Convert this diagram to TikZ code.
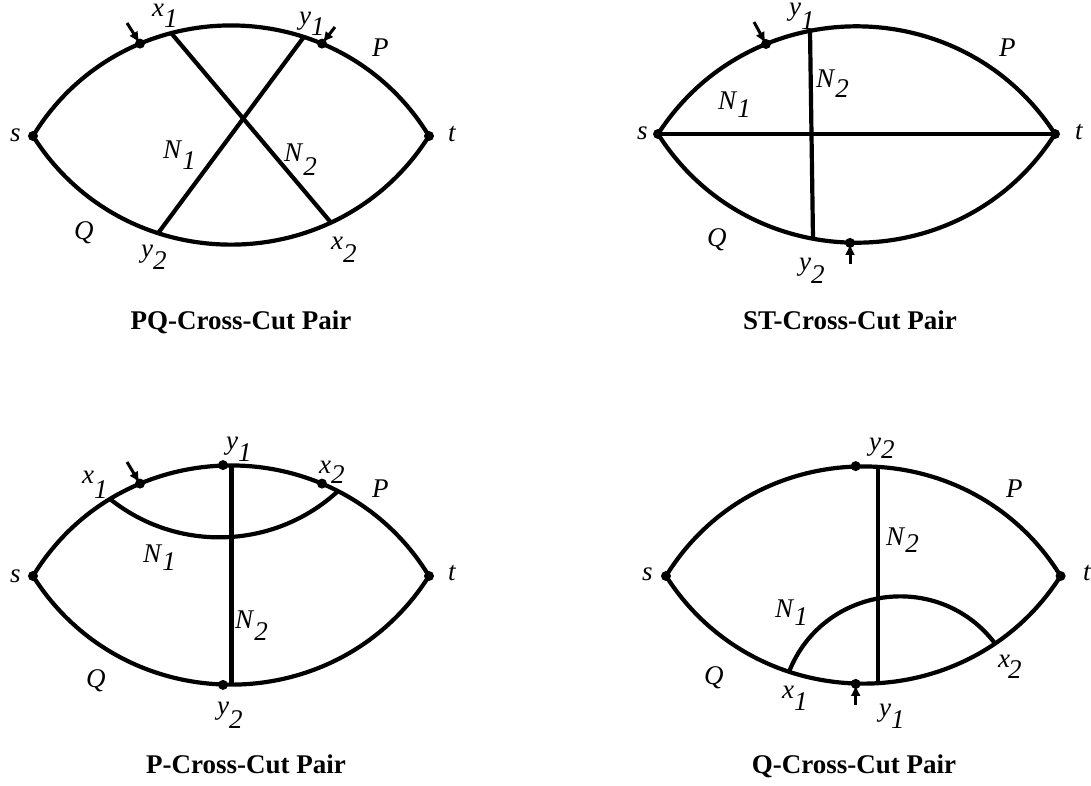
\documentclass[tikz,border=0pt]{standalone}
\usepackage{fontspec}
\setmainfont{Liberation Serif}
\usetikzlibrary{arrows.meta}
\newcommand{\lbl}[3][11pt]{\textit{#2}\raisebox{-#1}{\textit{#3}}}
\begin{document}
\begin{tikzpicture}[x=1pt,y=-1pt,
  curv/.style={line width=4.2pt},
  dotn/.style={circle, fill=black, inner sep=0pt, minimum size=10pt},
  lab/.style={font=\fontsize{27}{30}\selectfont, inner sep=0pt, anchor=base west},
  capt/.style={font=\fontsize{27}{32}\selectfont\bfseries, inner sep=0pt, anchor=base},
  markarr/.style={line width=3pt, -{Latex[length=11pt,width=10pt]}, shorten >=1pt}]
\useasboundingbox (0,0) rectangle (1091,786);

% ---------------- Panel 1: PQ-Cross-Cut Pair ----------------
\coordinate (s1) at (33,136);
\coordinate (t1) at (429,136);
\coordinate (x1a) at (171,32.9);
\coordinate (y1a) at (304,36.8);
\coordinate (da) at (140,43.6);
\coordinate (db) at (322,43.6);
\coordinate (y2a) at (158,233.3);
\coordinate (x2a) at (331,222.6);
\coordinate (ta) at (127,23);
\coordinate (tb) at (335,27);
\draw[curv] (s1) to[bend left=58.55, looseness=1.119] (t1);
\draw[curv] (s1) to[bend right=57.67, looseness=1.110] (t1);
\draw[curv] (x1a) -- (x2a);
\draw[curv] (y1a) -- (y2a);
\foreach \p in {s1,t1,da,db} \node[dotn] at (\p) {};
\draw[markarr] (ta) -- (da);
\draw[markarr] (tb) -- (db);
\node[lab] (l1x1) at (152,17) {\lbl{x}{1}};
\node[lab] (l1y1) at (299,25) {\lbl{y}{1}};
\node[lab] (l1P) at (372,57) {\textit{P}};
\node[lab] (l1s) at (10,142) {\textit{s}};
\node[lab] (l1t) at (448,142) {\textit{t}};
\node[lab] (l1N1) at (163,159) {\lbl{N}{1}};
\node[lab] (l1N2) at (284,162) {\lbl[14pt]{N}{2}};
\node[lab] (l1Q) at (74,240) {\textit{Q}};
\node[lab] (l1y2) at (141,257) {\lbl[13pt]{y}{2}};
\node[lab] (l1x2) at (331,250) {\lbl[13pt]{x}{2}};
\node[capt] (c1) at (241,329) {PQ-Cross-Cut Pair};

% ---------------- Panel 2: ST-Cross-Cut Pair ----------------
\coordinate (s2) at (658,134);
\coordinate (t2) at (1055,134);
\coordinate (dc) at (766,44.0);
\coordinate (y1b) at (810,30.6);
\coordinate (y2b) at (813,238.9);
\coordinate (dd) at (850,242.9);
\coordinate (tc) at (754,22);
\coordinate (td) at (850,264);
\draw[curv] (s2) to[bend left=57.14, looseness=1.104] (t2);
\draw[curv] (s2) to[bend right=57.59, looseness=1.109] (t2);
\draw[curv] (s2) -- (t2);
\draw[curv] (y1b) -- (y2b);
\foreach \p in {s2,t2,dc,dd} \node[dotn] at (\p) {};
\draw[markarr] (tc) -- (dc);
\draw[markarr] (td) -- (dd);
\node[lab] (l2s) at (637,140) {\textit{s}};
\node[lab] (l2t) at (1075,140) {\textit{t}};
\node[lab] (l2y1) at (789,16) {\lbl[14pt]{y}{1}};
\node[lab] (l2P) at (999,57) {\textit{P}};
\node[lab] (l2N2) at (816,88) {\lbl[10pt]{N}{2}};
\node[lab] (l2N1) at (718,110) {\lbl[8pt]{N}{1}};
\node[lab] (l2Q) at (707,247) {\textit{Q}};
\node[lab] (l2y2) at (799,270) {\lbl[13pt]{y}{2}};
\node[capt] (c2) at (850,329) {ST-Cross-Cut Pair};

% ---------------- Panel 3: P-Cross-Cut Pair ----------------
\coordinate (s3) at (33,576);
\coordinate (t3) at (429,576);
\coordinate (top3) at (231.5,465.0);
\coordinate (bot3) at (231.5,685.0);
\coordinate (y1c) at (223,465.1);
\coordinate (y2c) at (223,684.9);
\coordinate (de) at (140,483.6);
\coordinate (x2dot) at (322,483.6);
\coordinate (x1c) at (110,499.0);
\coordinate (x2c) at (338,491.1);
\coordinate (te) at (127,462);
\draw[curv] (s3) to[bend left=58.55, looseness=1.119] (t3);
\draw[curv] (s3) to[bend right=57.67, looseness=1.110] (t3);
\draw[curv] (top3) -- (bot3);
\draw[curv] (x1c) to[bend right=40.7, looseness=0.967] (x2c);
\foreach \p in {s3,t3,y1c,y2c,de,x2dot} \node[dotn] at (\p) {};
\draw[markarr] (te) -- (de);
\node[lab] (l3s) at (10,582) {\textit{s}};
\node[lab] (l3t) at (448,580) {\textit{t}};
\node[lab] (l3x1) at (82,483) {\lbl[15pt]{x}{1}};
\node[lab] (l3y1) at (226,449) {\lbl[12pt]{y}{1}};
\node[lab] (l3x2) at (319,473) {\lbl[10pt]{x}{2}};
\node[lab] (l3P) at (372,497) {\textit{P}};
\node[lab] (l3N1) at (143,562) {\lbl[8pt]{N}{1}};
\node[lab] (l3N2) at (235,628) {\lbl[12pt]{N}{2}};
\node[lab] (l3Q) at (86,687) {\textit{Q}};
\node[lab] (l3y2) at (217,714) {\lbl[14pt]{y}{2}};
\node[capt] (c3) at (246,773) {P-Cross-Cut Pair};

% ---------------- Panel 4: Q-Cross-Cut Pair ----------------
\coordinate (s4) at (666,576);
\coordinate (t4) at (1060.6,576);
\coordinate (y2d) at (855.7,466.1);
\coordinate (top4) at (878.3,466.5);
\coordinate (bot4) at (878.3,683.5);
\coordinate (df) at (855.7,683.9);
\coordinate (tf) at (855.7,705);
\coordinate (x1d) at (789,671.9);
\coordinate (x2d) at (995,643.5);
\draw[curv] (s4) to[bend left=58.29, looseness=1.116] (t4);
\draw[curv] (s4) to[bend right=57.4, looseness=1.107] (t4);
\draw[curv] (top4) -- (bot4);
\draw[curv] (x1d) to[bend left=60.7, looseness=1.143] (x2d);
\foreach \p in {s4,t4,y2d,df} \node[dotn] at (\p) {};
\draw[markarr] (tf) -- (df);
\node[lab] (l4y2) at (869,450) {\lbl[8pt]{y}{2}};
\node[lab] (l4P) at (1006,497) {\textit{P}};
\node[lab] (l4N2) at (886,545) {\lbl[7pt]{N}{2}};
\node[lab] (l4s) at (642,580) {\textit{s}};
\node[lab] (l4t) at (1083,580) {\textit{t}};
\node[lab] (l4N1) at (775,617) {\lbl[8pt]{N}{1}};
\node[lab] (l4Q) at (704,684) {\textit{Q}};
\node[lab] (l4x1) at (782,698) {\lbl[12pt]{x}{1}};
\node[lab] (l4y1) at (879,716) {\lbl[12pt]{y}{1}};
\node[lab] (l4x2) at (998,667) {\textit{x}\kern-2pt\raisebox{-11pt}{\textit{2}}};
\node[capt] (c4) at (854,773) {Q-Cross-Cut Pair};
\end{tikzpicture}
\end{document}
